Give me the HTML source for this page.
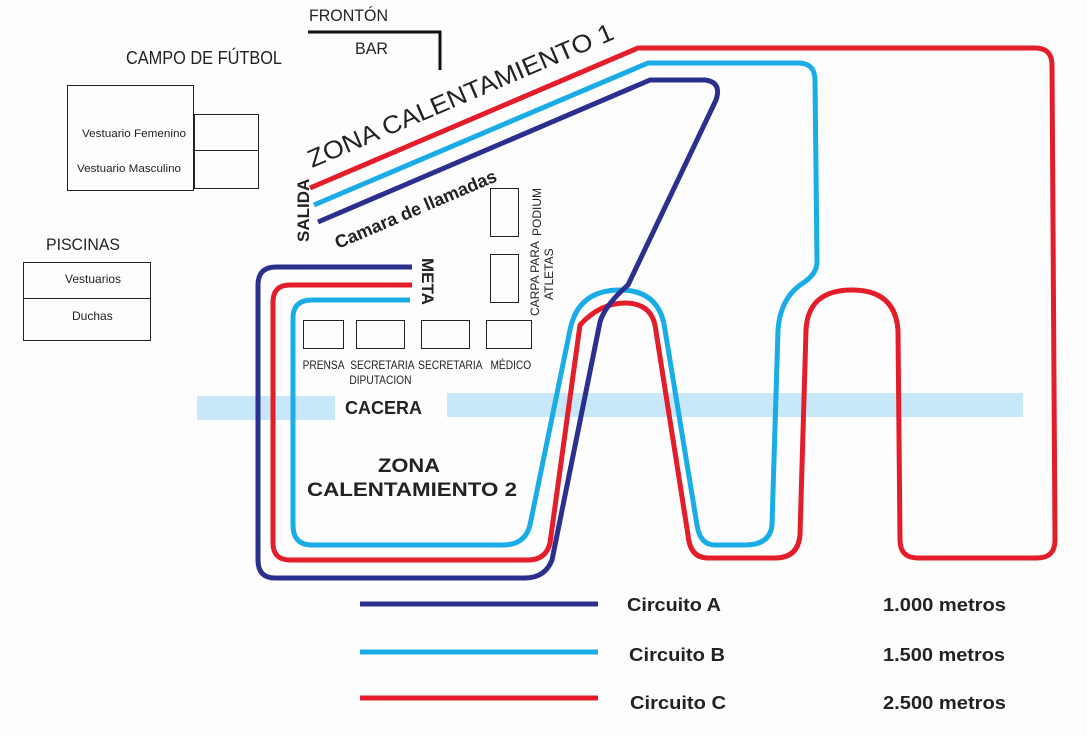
<!DOCTYPE html>
<html><head><meta charset="utf-8"><style>
body{margin:0;background:#fff;}
svg{display:block;font-family:"Liberation Sans",sans-serif;}
</style></head><body>
<svg width="1087" height="737" viewBox="0 0 1087 737" xmlns="http://www.w3.org/2000/svg">
<rect width="1087" height="737" fill="#fdfdfe"/>
<rect x="197" y="396" width="138" height="24" fill="#c8e7f8"/>
<rect x="447" y="393" width="576" height="24" fill="#c8e7f8"/>
<path d="M308,32 L440,32 L440,70" fill="none" stroke="#111" stroke-width="3"/>
<text x="309" y="21" font-size="17" fill="#222" textLength="79" lengthAdjust="spacingAndGlyphs">FRONTÓN</text>
<text x="355" y="54" font-size="17" fill="#222" textLength="33" lengthAdjust="spacingAndGlyphs">BAR</text>
<text x="126" y="64" font-size="18" fill="#222" textLength="156" lengthAdjust="spacingAndGlyphs">CAMPO DE FÚTBOL</text>
<rect x="67.5" y="85.5" width="126" height="105" fill="none" stroke="#222" stroke-width="1"/>
<rect x="194.5" y="114.5" width="64" height="36" fill="none" stroke="#222" stroke-width="1"/>
<rect x="194.5" y="150.5" width="64" height="38" fill="none" stroke="#222" stroke-width="1"/>
<text x="82" y="137" font-size="11" fill="#222" textLength="104" lengthAdjust="spacingAndGlyphs">Vestuario Femenino</text>
<text x="77" y="172" font-size="11" fill="#222" textLength="104" lengthAdjust="spacingAndGlyphs">Vestuario Masculino</text>
<text x="46" y="250" font-size="17" fill="#222" textLength="74" lengthAdjust="spacingAndGlyphs">PISCINAS</text>
<rect x="23.5" y="262.5" width="127" height="78" fill="none" stroke="#222" stroke-width="1"/>
<line x1="23" y1="298.5" x2="150" y2="298.5" stroke="#222"/>
<text x="65" y="283" font-size="12" fill="#222">Vestuarios</text>
<text x="72" y="320" font-size="12" fill="#222">Duchas</text>
<g fill="none" stroke="#222" stroke-width="1">
<rect x="490.5" y="188.5" width="28" height="48"/>
<rect x="490.5" y="254.5" width="28" height="48"/>
<rect x="303.5" y="320.5" width="40" height="28"/>
<rect x="356.5" y="320.5" width="48" height="28"/>
<rect x="421.5" y="320.5" width="48" height="28"/>
<rect x="486.5" y="320.5" width="45" height="28"/>
</g>
<g font-size="12" fill="#222" transform="scale(0.85,1)">
<text x="356" y="369">PRENSA</text>
<text x="412" y="369">SECRETARIA</text>
<text x="411" y="384">DIPUTACION</text>
<text x="492" y="369">SECRETARIA</text>
<text x="577" y="369">MÉDICO</text>
</g>
<text transform="translate(541,236) rotate(-90)" font-size="12" fill="#222">PODIUM</text>
<text transform="translate(539,316) rotate(-90)" font-size="12" fill="#222">CARPA PARA</text>
<text transform="translate(553,300) rotate(-90)" font-size="12" fill="#222">ATLETAS</text>
<g fill="none" stroke-width="5" stroke-linejoin="round">
<path stroke="#e31e2a" d="M310,188 L638,48 L1035,48 Q1052,48 1052,65 L1055,540 Q1055,558 1037,558 L918,558 Q900,558 900,540 L898,330 Q895,290 852,290 Q808,290 806,330 L800,535 Q798,558 775,558 L708,558 Q690,558 688,535 L655,325 Q650,303 625,303 Q600,303 580,325 L550,543 Q546,560 528,560 L290,560 Q273,560 273,543 L273,302 Q273,285 290,285 L412,285"/>
<path stroke="#1aace6" d="M314,205 L648,63 L798,63 Q815,63 815,80 L817,262 Q817,275 800,285 Q780,300 778,330 L772,525 Q770,545 745,545 L715,545 Q700,545 697,525 L665,330 Q660,290 620,290 Q578,290 570,330 L530,525 Q525,545 503,545 L312,545 Q293,545 293,525 L293,318 Q293,300 312,300 L410,300"/>
<path stroke="#2b2f8e" d="M318,222 L650,80 L705,80 Q722,82 716,100 L628,285 Q605,305 600,322 L552,560 Q545,578 525,578 L275,578 Q258,578 258,560 L258,285 Q258,267 276,267 L412,267"/>
<line x1="360" y1="604" x2="598" y2="604" stroke="#2b2f8e"/>
<line x1="360" y1="652" x2="598" y2="652" stroke="#1aace6"/>
<line x1="360" y1="698" x2="598" y2="698" stroke="#e31e2a"/>
</g>
<text transform="translate(312,168) rotate(-23.1)" font-size="25" fill="#222" textLength="330" lengthAdjust="spacingAndGlyphs">ZONA CALENTAMIENTO 1</text>
<text transform="translate(338,249) rotate(-23.1)" font-size="18" font-weight="bold" fill="#222">Camara de llamadas</text>
<text transform="translate(309,242) rotate(-90)" font-size="17" font-weight="bold" fill="#222">SALIDA</text>
<text transform="translate(422,258) rotate(90)" font-size="17" font-weight="bold" fill="#222">META</text>
<text x="345" y="414" font-size="18" font-weight="bold" fill="#222">CACERA</text>
<text x="378" y="472" font-size="19" font-weight="bold" fill="#222" textLength="62" lengthAdjust="spacingAndGlyphs">ZONA</text>
<text x="307" y="496" font-size="19" font-weight="bold" fill="#222" textLength="210" lengthAdjust="spacingAndGlyphs">CALENTAMIENTO 2</text>
<g font-size="18" font-weight="bold" fill="#222">
<text x="627" y="611" textLength="94" lengthAdjust="spacingAndGlyphs">Circuito A</text>
<text x="629" y="661" textLength="96" lengthAdjust="spacingAndGlyphs">Circuito B</text>
<text x="630" y="709" textLength="96" lengthAdjust="spacingAndGlyphs">Circuito C</text>
<text x="883" y="611" textLength="123" lengthAdjust="spacingAndGlyphs">1.000 metros</text>
<text x="883" y="661" textLength="122" lengthAdjust="spacingAndGlyphs">1.500 metros</text>
<text x="883" y="709" textLength="123" lengthAdjust="spacingAndGlyphs">2.500 metros</text>
</g>
</svg>
</body></html>
